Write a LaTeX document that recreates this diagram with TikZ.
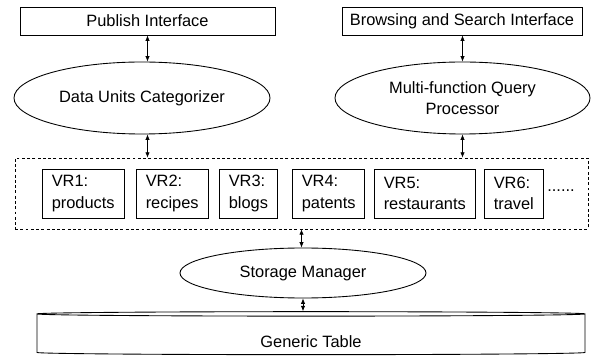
\documentclass[tikz,border=0pt]{standalone}
\usepackage{fontspec}
\setmainfont{Liberation Sans}
\usetikzlibrary{arrows.meta,shapes.geometric}
\begin{document}
\begin{tikzpicture}[font=\fontsize{14pt}{17.5pt}\selectfont, line width=0.75pt,
        box/.style={draw, rectangle, minimum height=0.84cm, inner sep=0pt},
        proc/.style={draw, ellipse, inner sep=0pt, align=center},
        vrbox/.style={draw, rectangle, anchor=west, minimum height=1.47cm, inner xsep=0.28cm, align=left, font=\fontsize{14pt}{18.5pt}\selectfont},
        link/.style={{Latex[length=1.6mm,width=1.3mm]}-{Latex[length=1.6mm,width=1.3mm]}, line width=0.6pt}]
    \useasboundingbox (0,0) rectangle (17.76,10.68);

    % interfaces
    \node[box, minimum width=7.65cm] (pub) at (4.425, 10.05) {Publish Interface};
    \node[box, minimum width=7.2cm] (browse) at (13.86, 10.05) {Browsing and Search Interface};

    % processors
    \node[proc, minimum width=7.68cm, minimum height=2.16cm] (duc) at (4.26, 7.74) {Data Units Categorizer};
    \node[proc, minimum width=7.65cm, minimum height=2.16cm] (mqp) at (13.875, 7.74) {Multi-function Query\\Processor};

    % vertical repositories
    \node[draw, dash pattern=on 2.5pt off 2pt, line width=0.6pt, minimum width=17.19cm, minimum height=2.13cm] (vrs) at (9.045, 4.875) {};
    \node[vrbox] (vr1) at (1.26, 4.875) {VR1:\\products};
    \node[vrbox] (vr2) at (4.08, 4.875) {VR2:\\recipes};
    \node[vrbox] (vr3) at (6.57, 4.875) {VR3:\\blogs};
    \node[vrbox] (vr4) at (8.76, 4.875) {VR4:\\patents};
    \node[vrbox] (vr5) at (11.22, 4.875) {VR5:\\restaurants};
    \node[vrbox] (vr6) at (14.52, 4.875) {VR6:\\travel};
    \node (more) at (16.83, 4.95) {......};

    % storage
    \node[proc, minimum width=7.38cm, minimum height=1.5cm] (sm) at (9.09, 2.49) {Storage Manager};
    \node[draw, cylinder, shape border rotate=90, aspect=0.044, minimum width=16.44cm, minimum height=1.29cm, inner sep=0pt] (gt) at (9.33, 0.645) {\raisebox{-0.2cm}[\height][\depth]{Generic Table}};

    \draw[link] (pub.south) -- (pub.south |- duc.north);
    \draw[link] (pub.south |- duc.south) -- (pub.south |- vrs.north);
    \draw[link] (mqp.north |- browse.south) -- (mqp.north);
    \draw[link] (mqp.south) -- (mqp.south |- vrs.north);
    \draw[link] (vrs.south) -- (vrs.south |- sm.north);
    \draw[link] (sm.south) -- (sm.south |- gt.north);
\end{tikzpicture}
\end{document}
